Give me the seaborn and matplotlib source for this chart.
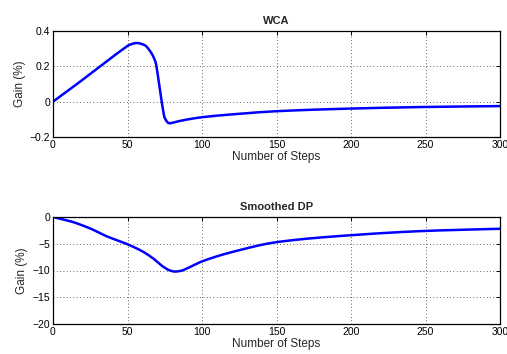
import numpy as np
import pandas as pd
import matplotlib
matplotlib.use("Agg")
import matplotlib.pyplot as plt
import seaborn as sns
from matplotlib.ticker import FuncFormatter

# WCA series
wca_steps = [0, 11, 25, 36, 45, 51.5, 56, 61.5, 65, 67.5, 69, 70, 71, 72.9, 75, 78, 84, 90, 100, 120, 150, 200, 250, 300]
wca_gain = [0, 0.068, 0.157, 0.228, 0.285, 0.322, 0.332, 0.32, 0.288, 0.252, 0.218, 0.17, 0.11, 0.002, -0.092, -0.122, -0.111, -0.101, -0.088, -0.072, -0.054, -0.039, -0.030, -0.025]

# Smoothed DP series
dp_steps = [0, 11, 25, 36, 50, 60.5, 67, 74, 78.5, 82, 86, 90, 100, 125, 150, 200, 250, 300]
dp_gain = [0, -0.74, -2.15, -3.6, -5.1, -6.5, -7.7, -9.3, -10.0, -10.2, -10.05, -9.6, -8.3, -6.2, -4.7, -3.4, -2.6, -2.2]

titles = ["WCA", "Smoothed DP"]
xlabel = "Number of Steps"
ylabel = "Gain (%)"
xticks = [0, 50, 100, 150, 200, 250, 300]
wca_yticks = [-0.2, 0, 0.2, 0.4]
dp_yticks = [-20, -15, -10, -5, 0]

sns.set_style("white")
plt.rcParams['font.family'] = ['Liberation Sans', 'DejaVu Sans']
plt.rcParams['axes.unicode_minus'] = True

fig = plt.figure(figsize=(5.07, 3.54), dpi=100)
ax1 = fig.add_axes([53/507, 1-137/354, 447/507, 106/354])
ax2 = fig.add_axes([53/507, 1-324/354, 447/507, 107/354])

def smooth(xs, ys):
    xs = np.asarray(xs, float); ys = np.asarray(ys, float)
    xf = np.linspace(xs.min(), xs.max(), 1801)
    h = np.diff(xs); d = np.diff(ys) / h
    m = np.zeros_like(ys)
    for i in range(1, len(xs)-1):
        if d[i-1]*d[i] <= 0:
            m[i] = 0
        else:
            w1 = 2*h[i] + h[i-1]; w2 = h[i] + 2*h[i-1]
            m[i] = (w1 + w2) / (w1/d[i-1] + w2/d[i])
    m[0] = d[0]; m[-1] = d[-1]
    idx = np.clip(np.searchsorted(xs, xf) - 1, 0, len(xs)-2)
    t = (xf - xs[idx]) / h[idx]
    h00 = 2*t**3 - 3*t**2 + 1; h10 = t**3 - 2*t**2 + t
    h01 = -2*t**3 + 3*t**2; h11 = t**3 - t**2
    yf = h00*ys[idx] + h10*h[idx]*m[idx] + h01*ys[idx+1] + h11*h[idx]*m[idx+1]
    return xf, yf

fmt = FuncFormatter(lambda v, p: ("%g" % v).replace("-", "\u2212"))

for ax, xs, ys, title, yt in [(ax1, wca_steps, wca_gain, titles[0], wca_yticks),
                              (ax2, dp_steps, dp_gain, titles[1], dp_yticks)]:
    xf, yf = smooth(xs, ys)
    df = pd.DataFrame({"step": xf, "gain": yf})
    sns.lineplot(data=df, x="step", y="gain", ax=ax, color="#0000ff", linewidth=1.8)
    ax.set_xlim(0, 300)
    ax.set_ylim(yt[0], yt[-1])
    ax.set_xticks(xticks)
    ax.set_yticks(yt)
    ax.yaxis.set_major_formatter(fmt)
    ax.grid(True, linestyle=(0, (1, 3)), color="#333333", linewidth=0.6)
    for s in ax.spines.values():
        s.set_color("black"); s.set_linewidth(0.9); s.set_visible(True)
    ax.tick_params(direction="in", length=3, width=0.7, top=True, right=True,
                   labelsize=7.5, pad=2, colors="black")
    ax.set_xlabel(xlabel, fontsize=8.5, labelpad=1)
    ax.set_ylabel(ylabel, fontsize=8.5, labelpad=3)
    ax.set_title(title, fontsize=8, fontweight="bold", pad=5)

fig.savefig("out.png", dpi=100)
